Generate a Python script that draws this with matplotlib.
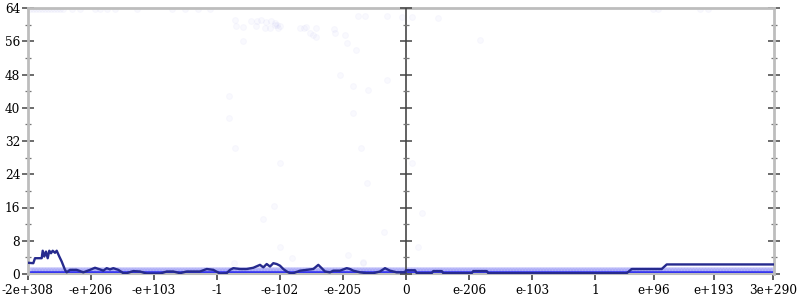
import numpy as np
import matplotlib
matplotlib.use("Agg")
import matplotlib.pyplot as plt

# ---------------- data ----------------
# x positions are in "ordered-float index" units (0 = the value 0.0)
tick_pos = [-378, -315, -252, -189, -126, -63, 0, 63, 126, 189, 248, 308, 367]
tick_labels = ["-2e+308", "-e+206", "-e+103", "-1", "-e-102", "-e-205", "0",
               "e-206", "e-103", "1", "e+96", "e+193", "3e+290"]
x_min, x_max = -378, 367.5
y_ticks = [0, 8, 16, 24, 32, 40, 48, 56, 64]
y_minor = [4, 12, 20, 28, 36, 44, 52, 60]

# running average line
line_x = [-378, -372.7, -371, -364.3, -363.3, -361.7, -360, -358.3, -356.7, -355,
          -353.3, -351, -349.3, -346.7, -344.3, -341, -339.3, -336, -329.3, -322.7,
          -316, -311, -306, -302.7, -299.3, -296, -292.7, -287.7, -282.7, -279.3,
          -272.7, -266, -259.3, -252.7, -246, -239.3, -232.7, -226, -219.3, -212.7,
          -206, -199.3, -192.7, -186, -179.3, -176, -172.7, -166, -159.3, -152.7,
          -146, -142.7, -139.3, -136, -132.7, -129.3, -126, -122.7, -119.3, -116,
          -112.7, -106, -99.3, -92.7, -87.7, -84.3, -81, -76, -72.7, -66,
          -59.3, -56, -52.7, -46, -39.3, -32.7, -26, -21, -16, -9.3,
          -6, -1, 0, 9, 10.7, 25.7, 27.3, 35.7, 37.3, 65.7,
          67.3, 80.7, 82.3, 220.7, 225.7, 255.7, 260.7, 367.5]
line_y = [2.7, 2.6, 3.8, 3.8, 5.6, 4.2, 5.4, 3.8, 5.6, 5.0,
          5.6, 5.1, 5.6, 4.2, 3.0, 1.0, 0.4, 1.0, 1.0, 0.4,
          1.0, 1.5, 1.1, 0.8, 1.4, 1.1, 1.4, 1.0, 0.2, 0.2,
          0.7, 0.6, 0.1, 0.1, 0.1, 0.6, 0.6, 0.2, 0.6, 0.6,
          0.6, 1.2, 1.0, 0.1, 0.2, 1.0, 1.4, 1.2, 1.2, 1.5,
          2.2, 1.6, 2.4, 1.8, 2.6, 2.4, 2.0, 1.2, 0.6, 0.2,
          0.2, 0.8, 1.0, 1.2, 2.2, 1.4, 0.6, 0.4, 0.8, 0.8,
          1.4, 1.2, 0.8, 0.4, 0.2, 0.2, 0.6, 1.4, 0.8, 0.4,
          0.4, 0.4, 0.9, 0.9, 0.2, 0.2, 0.7, 0.7, 0.2, 0.2,
          0.7, 0.7, 0.2, 0.2, 1.2, 1.2, 2.3, 2.3]

# bulk of the samples: observed levels at every sample position
sample_levels = [0, 1]
sample_step = 1.5

# sparse outlier samples
out_x = [-376, -373, -370, -367, -364, -361, -358, -355, -352, -349, -346, -343,
         -334, -326, -311, -306, -299, -291, -269, -234, -221, -208, -196,
         -171, -170, -163, -163, -155, -150, -149, -145, -141, -140, -136, -135,
         -131, -131, -129, -128, -126, -106, -102, -100, -96, -93, -90, -90,
         -72, -71, -61, -59, -50, -48, -41, -19,
         -177, -53, -171, -45, -126, -39, -132, -143, -66, -53, -19,
         -177, -38, -126, -22, -114, -172, -43, -58, -43,
         -4, 6, 32, 74, 247, 252, 294, 302, 6, 16, 12]
out_y = [63.7, 63.7, 63.7, 63.7, 63.7, 63.7, 63.7, 63.7, 63.7, 63.7, 63.7, 63.7,
         63.7, 63.7, 63.7, 63.7, 63.7, 63.7, 63.7, 63.7, 63.7, 63.7, 63.7,
         61.0, 59.6, 56.1, 59.5, 60.8, 59.6, 60.8, 61.0, 59.2, 60.7, 59.2, 60.8,
         59.8, 60.5, 60.0, 59.2, 59.6, 59.3, 59.1, 59.4, 57.9, 57.5, 57.0, 59.3,
         59.0, 58.1, 57.5, 55.6, 54.0, 62.0, 62.0, 62.0,
         37.5, 38.8, 30.2, 30.4, 26.6, 22.0, 16.4, 13.2, 47.9, 45.2, 46.7,
         42.8, 44.3, 6.5, 10.0, 3.8, 2.6, 2.6, 4.5, 3.0,
         61.9, 61.8, 61.7, 56.3, 63.7, 63.7, 63.7, 63.7, 26.7, 14.7, 6.5]

# ---------------- styling ----------------
point_color = "#2a2af0"
line_color = "#262a8e"
frame_color = "#bdbdbd"
mid_color = "#555555"
font = ["DejaVu Serif"]

fig = plt.figure(figsize=(8, 3), dpi=100)
ax = fig.add_axes([28 / 800, 26 / 300, 745.5 / 800, 266 / 300])
ax.set_xlim(x_min, x_max)
ax.set_ylim(0, 64)

# dense samples
sx = np.arange(x_min + 1, x_max, sample_step)
level_alpha = {0: 0.55, 1: 0.1}
for lv in sample_levels:
    ax.scatter(sx, np.full_like(sx, lv, dtype=float), s=24, color=point_color,
               alpha=level_alpha[lv], linewidths=0, zorder=2)

# outliers
ax.scatter(out_x, out_y, s=18, facecolor=point_color, edgecolor=point_color,
           alpha=0.025, linewidths=0.8, zorder=2)

# running line
ax.plot(line_x, line_y, color=line_color, lw=1.7, zorder=4,
        solid_joinstyle="round")

# frame
for side in ("left", "right", "top"):
    ax.spines[side].set_color(frame_color)
    ax.spines[side].set_linewidth(2.0)
ax.spines["bottom"].set_color(frame_color)
ax.spines["bottom"].set_linewidth(1.5)

# middle axis at 0
ax.axvline(0, color=mid_color, lw=1.3, zorder=3)
ax.plot([0] * len(y_ticks), y_ticks, ls="none", marker="_", markersize=8,
        markeredgewidth=1.1, color="#444444", zorder=3, clip_on=False)
ax.plot([0] * len(y_minor), y_minor, ls="none", marker="_", markersize=4,
        markeredgewidth=0.9, color="#777777", zorder=3, clip_on=False)

# y ticks
ax.set_yticks(y_ticks)
ax.set_yticks(y_minor, minor=True)
ax.set_yticklabels([str(v) for v in y_ticks], family=font, fontsize=8.7)
ax.tick_params(axis="y", which="major", direction="inout", length=8, width=1.1,
               color="#444444", left=True, right=True, pad=1.5)
ax.tick_params(axis="y", which="minor", direction="inout", length=4, width=0.9,
               color="#777777", left=True, right=True)

# x ticks
ax.set_xticks(tick_pos)
ax.set_xticklabels(tick_labels, family=font, fontsize=8.7)
ax.tick_params(axis="x", which="major", direction="out", length=4.5, width=1.1,
               color="#333333", pad=2.5)

fig.savefig("out.png", dpi=100)
